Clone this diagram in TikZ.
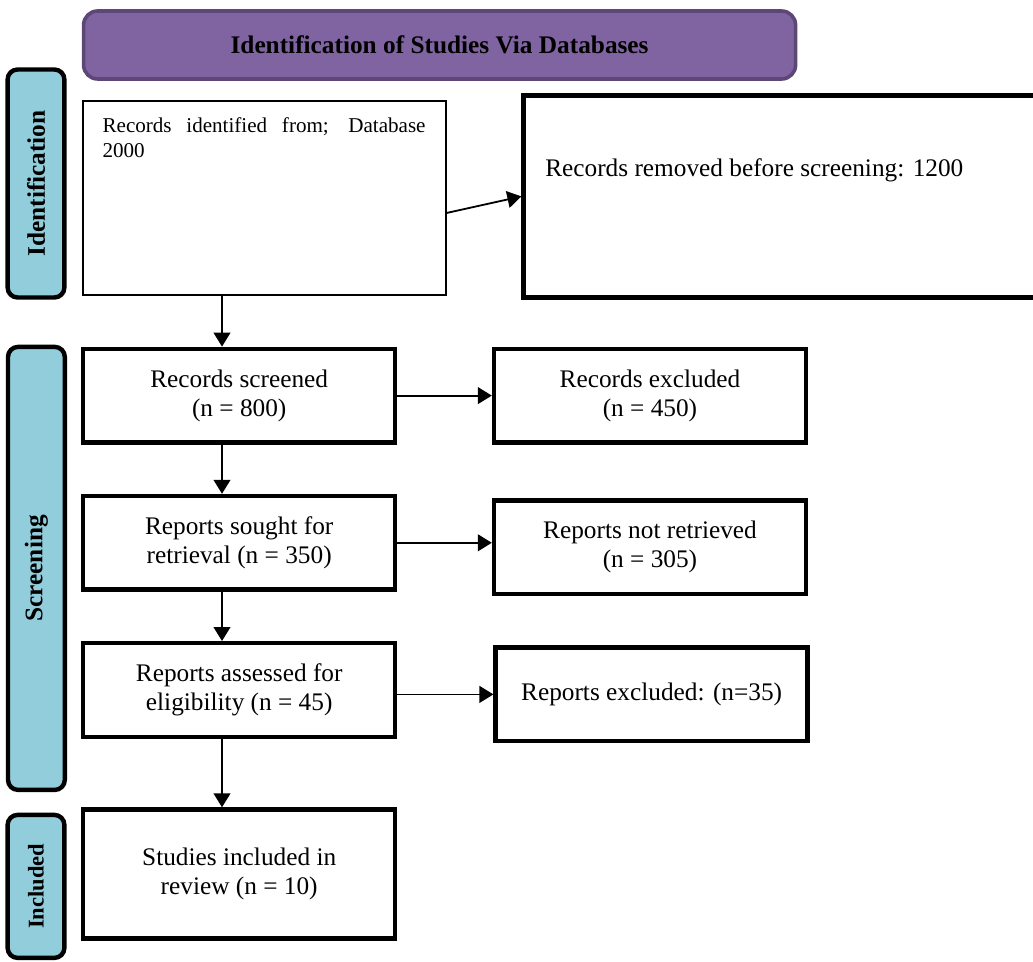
\documentclass[tikz,border=0pt]{standalone}
\usepackage{fontspec}
\setmainfont{Liberation Serif}
\usetikzlibrary{shapes.geometric, arrows.meta}
\definecolor{headerfill}{HTML}{8064A2}
\definecolor{headerline}{HTML}{5C4776}
\definecolor{phasefill}{HTML}{92CDDC}
\newcommand{\flowfont}{\fontsize{18}{20.6}\selectfont}
\tikzstyle{banner} = [
    rectangle, rounded corners=0.35cm,
    minimum width=17.8cm, minimum height=1.7cm,
    text centered,
    draw=headerline, line width=0.09cm, fill=headerfill,
    font=\flowfont\bfseries
]
\tikzstyle{phase} = [
    rectangle, rounded corners=0.25cm,
    minimum height=1.42cm,
    text centered,
    draw=black, line width=0.11cm, fill=phasefill,
    font=\flowfont\bfseries
]
\tikzstyle{process} = [
    rectangle,
    minimum width=7.8cm, minimum height=2.34cm,
    text centered, align=center,
    draw=black, line width=0.11cm, fill=white,
    font=\flowfont
]
\tikzstyle{plainbox} = [
    rectangle,
    minimum width=9.075cm, minimum height=4.85cm,
    draw=black, line width=0.03cm
]
\tikzstyle{bigbox} = [
    rectangle,
    minimum width=13.16cm, minimum height=5.05cm,
    draw=black, line width=0.11cm
]
\tikzstyle{arrow} = [line width=0.045cm, -{Triangle[length=0.35cm, width=0.42cm]}]

\begin{document}
\begin{tikzpicture}[node distance=3.68cm]
        \useasboundingbox (0,0) rectangle (25.825,-24.05);
        \clip (0,0) rectangle (25.825,-24.05);
        % Draw blocks
        \node (header) [banner] at (10.99,-1.125) {Identification of Studies Via Databases};
        \node (ident) [plainbox] at (6.61,-4.95) {};
        \node (identtxt) [anchor=north west, inner sep=0pt, text width=8.075cm, align=justify, font=\fontsize{15}{17.7}\selectfont] at ([xshift=0.5cm, yshift=-0.42cm]ident.north west) {Records identified from; Database\linebreak 2000};
        \node (removed) [bigbox, right of=ident, xshift=9.38cm, yshift=0.04cm] {};
        \node (removedtxt) [anchor=base west, inner sep=0pt, font=\flowfont] at ([xshift=0.59cm, yshift=0.49cm]removed.west) {Records removed before screening: 1200};
        \node (screened) [process, below of=ident, xshift=-0.63cm, yshift=-1.26cm] {Records screened\\(n = 800)};
        \node (sought) [process, below of=screened] {Reports sought for\\retrieval (n = 350)};
        \node (assessed) [process, below of=sought] {Reports assessed for\\eligibility (n = 45)};
        \node (included) [process, below of=assessed, yshift=-0.92cm, minimum height=3.225cm] {Studies included in\\review (n = 10)};
        \node (excluded) [process, right of=screened, xshift=6.59cm] {Records excluded\\(n = 450)};
        \node (notretr) [process, right of=sought, xshift=6.59cm, yshift=-0.11cm] {Reports not retrieved\\(n = 305)};
        \node (repexcl) [process, right of=assessed, xshift=6.63cm, yshift=-0.11cm] {Reports excluded: (n=35)};
        \node (identlbl) [phase, rotate=90, minimum width=5.7cm] at (0.9,-4.5875) {Identification};
        \node (screenlbl) [phase, rotate=90, minimum width=11.075cm] at (0.91,-14.21) {Screening};
        \node (includedlbl) [phase, rotate=90, minimum width=3.575cm, font=\fontsize{16}{18}\selectfont\bfseries] at (0.9,-22.16) {Included};
        \coordinate (spine) at ([xshift=-0.43cm]screened.north);

        % Draw arrows
        \draw [arrow] ([yshift=-0.375cm]ident.east) -- (removed.west);
        \draw [arrow] (ident.south -| spine) -- (screened.north -| spine);
        \draw [arrow] (screened.south -| spine) -- (sought.north -| spine);
        \draw [arrow] (sought.south -| spine) -- (assessed.north -| spine);
        \draw [arrow] (assessed.south -| spine) -- (included.north -| spine);
        \draw [arrow] (screened.east) -- (screened.east -| excluded.west);
        \draw [arrow] (sought.east) -- (sought.east -| notretr.west);
        \draw [arrow] (repexcl.west -| assessed.east) -- (repexcl.west);
    \end{tikzpicture}
\end{document}
